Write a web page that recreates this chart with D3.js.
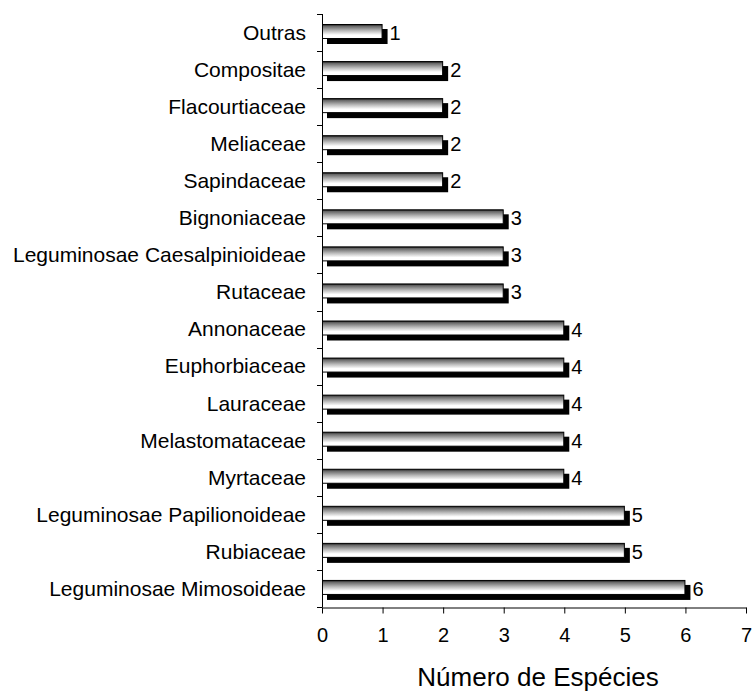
<!DOCTYPE html>
<html>
<head>
<meta charset="utf-8">
<script src="https://cdn.jsdelivr.net/npm/d3@7"></script>
<style>
  body { margin: 0; background: #fff; }
  svg { display: block; font-family: "Liberation Sans", Arial, sans-serif; }
</style>
</head>
<body>
<svg id="chart" width="754" height="693"></svg>
<script>
// Families, listed top to bottom, and their species counts
const families = [
  "Outras", "Compositae", "Flacourtiaceae", "Meliaceae", "Sapindaceae",
  "Bignoniaceae", "Leguminosae Caesalpinioideae", "Rutaceae",
  "Annonaceae", "Euphorbiaceae", "Lauraceae", "Melastomataceae",
  "Myrtaceae", "Leguminosae Papilionoideae", "Rubiaceae",
  "Leguminosae Mimosoideae"
];
const species = [1, 2, 2, 2, 2, 3, 3, 3, 4, 4, 4, 4, 4, 5, 5, 6];
const xTicks = [0, 1, 2, 3, 4, 5, 6, 7];
const xTitle = "Número de Espécies";

const svg = d3.select("#chart");
const plotLeft = 322, plotRight = 746, plotTop = 14, plotBottom = 607;

const x = d3.scaleLinear().domain([0, 7]).range([plotLeft, plotRight]);
const y = d3.scaleBand().domain(families).range([plotTop, plotBottom]);

// vertical shading for the bar faces
const grad = svg.append("defs").append("linearGradient")
  .attr("id", "face").attr("x1", 0).attr("y1", 0).attr("x2", 0).attr("y2", 1);
grad.append("stop").attr("offset", "0%").attr("stop-color", "#111");
grad.append("stop").attr("offset", "12%").attr("stop-color", "#666");
grad.append("stop").attr("offset", "45%").attr("stop-color", "#bbb");
grad.append("stop").attr("offset", "75%").attr("stop-color", "#fff");
grad.append("stop").attr("offset", "100%").attr("stop-color", "#fff");

const data = families.map((f, i) => ({ f, v: species[i] }));
const barTop = 10, barH = 15, dx = 5, dy = 5;

// drop shadows
svg.append("g").selectAll("rect").data(data).join("rect")
  .attr("x", x(0) + dx)
  .attr("y", d => y(d.f) + barTop + dy)
  .attr("width", d => x(d.v) - x(0))
  .attr("height", barH)
  .attr("fill", "#000");

// bar faces
svg.append("g").selectAll("rect").data(data).join("rect")
  .attr("x", x(0) + 0.5)
  .attr("y", d => y(d.f) + barTop + 0.5)
  .attr("width", d => x(d.v) - x(0) - 1)
  .attr("height", barH - 1)
  .attr("fill", "url(#face)")
  .attr("stroke", "#000")
  .attr("stroke-width", 1);

// value labels
svg.append("g").selectAll("text").data(data).join("text")
  .attr("x", d => x(d.v) + dx + 2)
  .attr("y", d => y(d.f) + barTop + 16)
  .attr("font-size", 20)
  .text(d => d.v);

// y axis: line and ticks between categories
const yAxis = svg.append("g").attr("stroke", "#000").attr("stroke-width", 1);
yAxis.append("line").attr("x1", plotLeft + 0.5).attr("x2", plotLeft + 0.5)
  .attr("y1", plotTop).attr("y2", plotBottom);
const bounds = families.map(f => y(f)).concat([plotBottom]);
yAxis.selectAll("line.t").data(bounds).join("line").attr("class", "t")
  .attr("x1", plotLeft - 5).attr("x2", plotLeft + 0.5)
  .attr("y1", d => Math.round(d) + 0.5).attr("y2", d => Math.round(d) + 0.5);

// category labels
svg.append("g").selectAll("text").data(families).join("text")
  .attr("x", plotLeft - 16)
  .attr("y", f => y(f) + y.bandwidth() / 2)
  .attr("dy", "0.35em")
  .attr("text-anchor", "end")
  .attr("font-size", 21)
  .text(f => f);

// x axis
const xAxis = svg.append("g")
  .attr("transform", `translate(0,${plotBottom + 0.5})`)
  .call(d3.axisBottom(x).tickValues(xTicks).tickFormat(d3.format("d"))
    .tickSize(6).tickPadding(14).tickSizeOuter(0));
xAxis.select(".domain").attr("stroke", "#000");
xAxis.selectAll(".tick line").attr("stroke", "#000");
xAxis.selectAll("text").attr("font-size", 20).attr("fill", "#000")
  .attr("font-family", "Liberation Sans, Arial, sans-serif");

svg.append("text")
  .attr("x", 538)
  .attr("y", 686)
  .attr("text-anchor", "middle")
  .attr("font-size", 26)
  .text(xTitle);
</script>
</body>
</html>
